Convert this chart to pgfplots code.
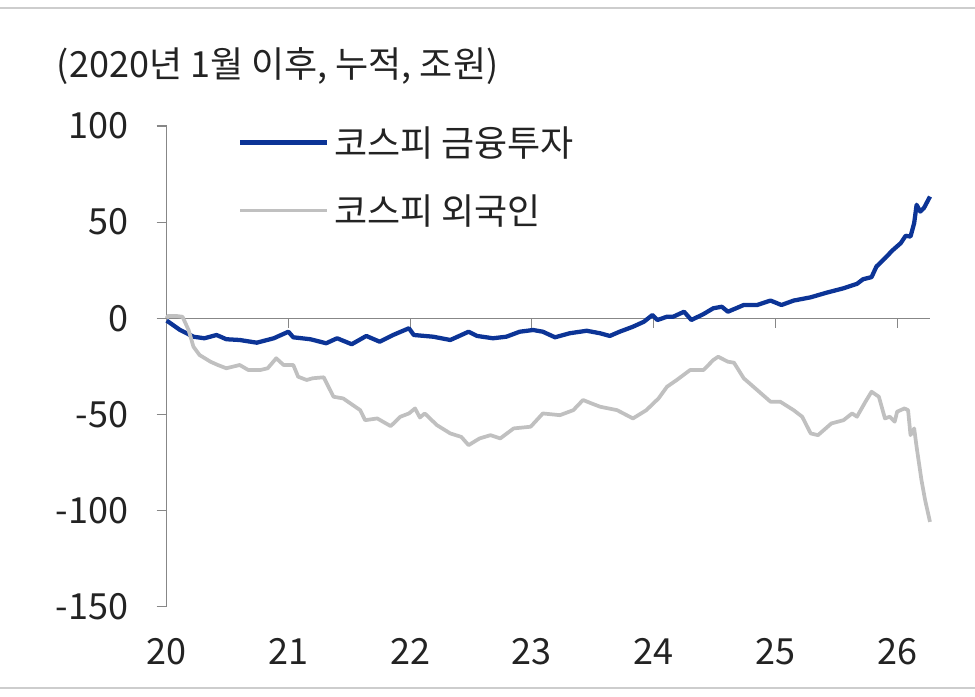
\documentclass[border=0pt]{standalone}
\usepackage{fontspec}
\setmainfont{Noto Sans CJK KR}
\usepackage{pgfplots}
\pgfplotsset{compat=1.18}
\definecolor{bluel}{RGB}{12,52,150}
\definecolor{grayl}{RGB}{192,192,192}
\definecolor{axisgray}{RGB}{135,135,135}
\definecolor{framegray}{RGB}{205,205,205}
\definecolor{textcol}{RGB}{35,35,35}
\newcommand{\bigf}{\fontsize{27}{32}\selectfont}
\begin{document}
\begin{tikzpicture}
\path[use as bounding box] (-125pt,-67.7pt) rectangle (606.25pt,455pt);
\draw[framegray, line width=2.2pt] (-125pt,449pt) -- (606.25pt,449pt);
\draw[framegray, line width=2.2pt] (-125pt,-61pt) -- (606.25pt,-61pt);
\begin{axis}[
  scale only axis, width=572.5pt, height=360.5pt,
  xmin=20, xmax=26.27, ymin=-150, ymax=100,
  axis y line*=left, axis x line*=bottom,
  x axis line style={draw=none,-},
  y axis line style={draw=axisgray, line width=0.9pt, -},
  xtick={20,21,22,23,24,25,26},
  xticklabels={20,21,22,23,24,25,26},
  xtick style={draw=none},
  ytick={-150,-100,-50,0,50,100},
  yticklabels={-150,-100,-50,0,50,100},
  ytick style={draw=axisgray, line width=0.9pt},
  tick align=outside, major tick length=7.5pt,
  tick label style={font=\bigf, text=textcol},
  yticklabel style={anchor=east, inner sep=0pt, xshift=-21pt},
  xticklabel style={anchor=base, inner sep=0pt, yshift=-36pt},
  clip=false,
  legend style={at={(axis description cs:0.0934,0.895)}, anchor=west, draw=none, fill=none, inner sep=0pt, column sep=3.75pt, row sep=27.25pt, font=\bigf, nodes={inner sep=0pt, text=textcol}},
  legend cell align=left,
  legend image code/.code={\draw[#1] (0pt,0pt) -- (65pt,0pt);},
]
\draw[axisgray, line width=0.9pt] (axis cs:20,0) -- (axis cs:26.27,0);
\draw[axisgray, line width=0.9pt] (axis cs:21,0) -- ++(0pt,-7.5pt);
\draw[axisgray, line width=0.9pt] (axis cs:22,0) -- ++(0pt,-7.5pt);
\draw[axisgray, line width=0.9pt] (axis cs:23,0) -- ++(0pt,-7.5pt);
\draw[axisgray, line width=0.9pt] (axis cs:24,0) -- ++(0pt,-7.5pt);
\draw[axisgray, line width=0.9pt] (axis cs:25,0) -- ++(0pt,-7.5pt);
\draw[axisgray, line width=0.9pt] (axis cs:26,0) -- ++(0pt,-7.5pt);
\addplot[bluel, line width=3.2pt, line join=round] coordinates {
(20.00,-1.2) (20.11,-6.1) (20.22,-9.6) (20.31,-10.4) (20.41,-8.7) (20.49,-10.9) (20.60,-11.3) (20.74,-12.7) (20.88,-10.4) (21.00,-7) (21.04,-9.9) (21.18,-10.9) (21.31,-13) (21.40,-10.4) (21.52,-13.5) (21.64,-9.2) (21.75,-12.2) (21.86,-8.7) (21.99,-5.2) (22.03,-8.7) (22.19,-9.6) (22.33,-11.3) (22.48,-7) (22.55,-9.2) (22.68,-10.4) (22.79,-9.6) (22.90,-7) (23.01,-6.1) (23.09,-7) (23.19,-9.9) (23.31,-7.8) (23.45,-6.5) (23.56,-7.8) (23.64,-9.2) (23.72,-7) (23.83,-4.4) (23.92,-1.8) (23.99,1.7) (24.03,-0.9) (24.11,0.8) (24.16,0.8) (24.25,3.4) (24.31,-0.9) (24.41,2.2) (24.49,5.2) (24.56,6) (24.61,3.4) (24.74,6.9) (24.85,6.9) (24.96,9.2) (25.05,6.9) (25.15,9.2) (25.29,10.9) (25.42,13.3) (25.56,15.6) (25.67,17.9) (25.72,20.3) (25.79,21.4) (25.83,26.9) (25.90,31.2) (25.96,35.2) (26.03,39.1) (26.07,42.9) (26.11,42.5) (26.14,49.5) (26.16,59) (26.19,55.5) (26.22,57.3) (26.27,63.3)
};
\addlegendentry{코스피 금융투자}
\addplot[grayl, line width=2.8pt, line join=round] coordinates {
(20.00,0) (20.01,1.2) (20.08,1.2) (20.13,0.8) (20.18,-6.1) (20.22,-14.8) (20.27,-19.1) (20.36,-22.6) (20.42,-24.3) (20.49,-26) (20.60,-24.3) (20.67,-26.9) (20.77,-26.9) (20.83,-26) (20.90,-20.8) (20.96,-24.3) (21.04,-24.3) (21.08,-30.4) (21.15,-32.1) (21.20,-31.2) (21.29,-30.7) (21.37,-40.8) (21.45,-41.7) (21.59,-47.8) (21.63,-53) (21.73,-52.1) (21.84,-56.1) (21.92,-51.2) (21.99,-49.5) (22.04,-46.9) (22.08,-51.6) (22.12,-49.5) (22.22,-55.6) (22.33,-59.9) (22.42,-61.7) (22.48,-66) (22.57,-62.5) (22.66,-60.8) (22.74,-62.5) (22.85,-57.3) (22.99,-56.4) (23.09,-49.5) (23.23,-50.4) (23.34,-47.8) (23.42,-42.5) (23.49,-44.3) (23.56,-46) (23.70,-47.8) (23.83,-52.1) (23.94,-47.8) (24.04,-41.7) (24.11,-35.6) (24.19,-32.1) (24.30,-26.9) (24.41,-26.9) (24.49,-21.7) (24.53,-20) (24.61,-22.6) (24.66,-23.1) (24.74,-31.2) (24.85,-37.3) (24.96,-43.4) (25.04,-43.4) (25.15,-47.8) (25.22,-51.2) (25.29,-59.9) (25.35,-60.8) (25.46,-54.7) (25.56,-53) (25.63,-49.5) (25.67,-51.2) (25.74,-43.4) (25.79,-38.2) (25.85,-40.8) (25.90,-52.1) (25.94,-51.2) (25.98,-53.8) (26.00,-48.6) (26.06,-46.9) (26.09,-47.8) (26.11,-60.8) (26.14,-57.3) (26.16,-66.9) (26.20,-84.2) (26.23,-94.6) (26.27,-105.9)
};
\addlegendentry{코스피 외국인}
\node[anchor=base west, inner sep=0pt, font=\bigf, text=textcol, xshift=-82.5pt, yshift=36.75pt] at (rel axis cs:0,1) {(2020년 1월 이후, 누적, 조원)};
\end{axis}
\end{tikzpicture}
\end{document}
